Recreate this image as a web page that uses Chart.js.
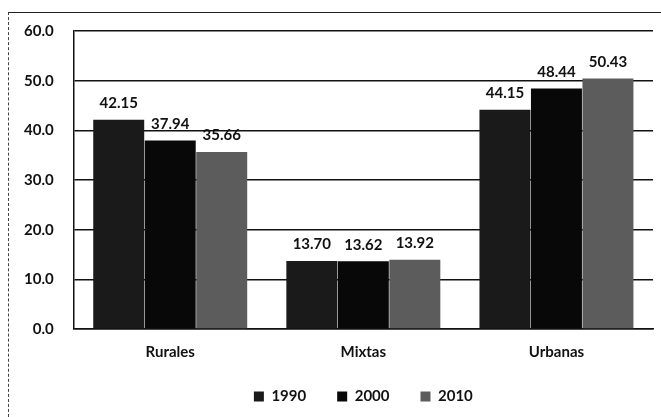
<!DOCTYPE html>
<html>
<head>
<meta charset="utf-8">
<script src="https://cdn.jsdelivr.net/npm/chart.js@4.4.0/dist/chart.umd.min.js"></script>
<style>
  html, body { margin: 0; padding: 0; background: #fff; }
  #wrap { position: relative; width: 661px; height: 417px; }
  #frame { position: absolute; left: 8px; top: 12px; right: 0; bottom: 0;
           border-top: 1px solid #222; border-left: 1px dashed #444; }
  canvas { position: absolute; left: 0; top: 0; }
</style>
</head>
<body>
<div id="wrap">
  <div id="frame"></div>
  <canvas id="chart" width="661" height="417"></canvas>
</div>
<script>
// === Data ===
const categories = ["Rurales", "Mixtas", "Urbanas"];
const seriesNames = ["1990", "2000", "2010"];
const values1990 = [42.15, 13.70, 44.15];
const values2000 = [37.94, 13.62, 48.44];
const values2010 = [35.66, 13.92, 50.43];
const yTicks = [0, 10, 20, 30, 40, 50, 60];

const FONT = "Lato, 'Open Sans', sans-serif";

// draws the value above each bar
const valueLabels = {
  id: "valueLabels",
  afterDatasetsDraw(chart) {
    const ctx = chart.ctx;
    ctx.save();
    ctx.font = "bold 15px " + FONT;
    ctx.fillStyle = "#111";
    ctx.textAlign = "center";
    ctx.textBaseline = "bottom";
    chart.data.datasets.forEach((ds, i) => {
      chart.getDatasetMeta(i).data.forEach((bar, j) => {
        ctx.fillText(ds.data[j].toFixed(2), bar.x, bar.y - 9);
      });
    });
    ctx.restore();
  }
};

new Chart(document.getElementById("chart"), {
  type: "bar",
  data: {
    labels: categories,
    datasets: [
      { label: seriesNames[0], data: values1990, backgroundColor: "#1a1a1a" },
      { label: seriesNames[1], data: values2000, backgroundColor: "#080808" },
      { label: seriesNames[2], data: values2010, backgroundColor: "#5c5c5c" }
    ]
  },
  options: {
    responsive: false,
    animation: false,
    layout: { padding: { left: 4, right: 8, top: 31, bottom: 3 } },
    datasets: { bar: { categoryPercentage: 0.8, barPercentage: 0.99 } },
    scales: {
      x: {
        grid: { display: false, drawTicks: false },
        border: { color: "#111", width: 1.5 },
        ticks: { color: "#111", font: { family: FONT, size: 15, weight: "bold" }, padding: 14 },
        afterFit: (axis) => { axis.height = 29; }
      },
      y: {
        min: 0,
        max: 60,
        afterBuildTicks: (axis) => { axis.ticks = yTicks.map(v => ({ value: v })); },
        grid: { color: "#111", lineWidth: 1.5, drawTicks: false },
        border: { color: "#111", width: 1.5 },
        ticks: {
          color: "#111",
          font: { family: FONT, size: 15, weight: "bold" },
          padding: 20,
          callback: (v) => Number(v).toFixed(1)
        }
      }
    },
    plugins: {
      tooltip: { enabled: false },
      legend: {
        position: "bottom",
        fullSize: false,
        labels: {
          color: "#111",
          font: { family: FONT, size: 15, weight: "bold" },
          boxWidth: 10,
          boxHeight: 10,
          padding: 31
        }
      }
    }
  },
  plugins: [valueLabels]
});
</script>
</body>
</html>
